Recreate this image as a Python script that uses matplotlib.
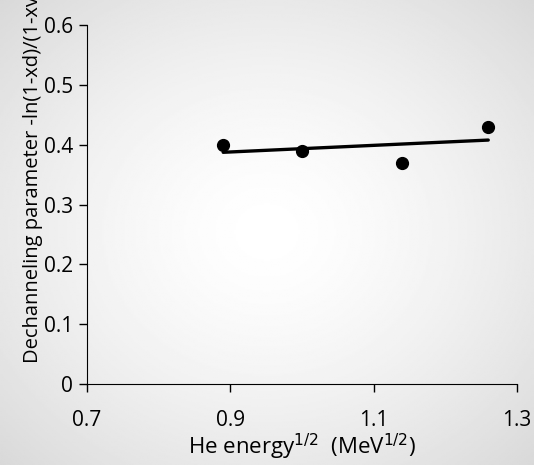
import numpy as np
import matplotlib.pyplot as plt

# Data
he_energy_sqrt = [0.89, 1.00, 1.14, 1.26]
dechanneling = [0.40, 0.39, 0.37, 0.43]
x_ticks = [0.7, 0.9, 1.1, 1.3]
y_ticks = [0, 0.1, 0.2, 0.3, 0.4, 0.5, 0.6]
y_tick_labels = ['0', '0.1', '0.2', '0.3', '0.4', '0.5', '0.6']

plt.rcParams['font.family'] = ['Open Sans', 'DejaVu Sans']

fig = plt.figure(figsize=(5.34, 4.65), dpi=100)

# radial grey gradient behind everything
bg = fig.add_axes([0, 0, 1, 1], zorder=0)
yy, xx = np.mgrid[-1:1:300j, -1:1:300j]
r = np.sqrt(xx ** 2 + yy ** 2) / np.sqrt(2)
shade = 1.0 - 0.15 * r ** 1.5
bg.imshow(shade, cmap='gray', vmin=0, vmax=1, extent=[0, 1, 0, 1], aspect='auto')
bg.axis('off')

ax = fig.add_axes([0.163, 0.174, 0.805, 0.772], zorder=1)
ax.patch.set_alpha(0)

# linear trendline
slope, icpt = np.polyfit(he_energy_sqrt, dechanneling, 1)
xs = np.array([min(he_energy_sqrt), max(he_energy_sqrt)])
ax.plot(xs, slope * xs + icpt, color='black', lw=2.4, solid_capstyle='round')
ax.plot(he_energy_sqrt, dechanneling, 'o', color='black', ms=8.5)

ax.set_xlim(0.7, 1.3)
ax.set_ylim(0, 0.6)
ax.set_xticks(x_ticks)
ax.set_xticklabels([str(v) for v in x_ticks])
ax.set_yticks(y_ticks)
ax.set_yticklabels(y_tick_labels)
ax.tick_params(direction='out', length=6, width=1, labelsize=15)
ax.tick_params(axis='x', pad=13)
ax.tick_params(axis='y', pad=4)
for s in ['top', 'right']:
    ax.spines[s].set_visible(False)

ax.set_xlabel('He energy$^{1/2}$  (MeV$^{1/2}$)', fontsize=16, labelpad=0)
fig.text(0.062, (465 - 363) / 465, 'Dechanneling parameter -ln(1-xd)/(1-xv)',
         rotation=90, fontsize=14.5, ha='center', va='bottom')

plt.savefig('out.png', dpi=100)
